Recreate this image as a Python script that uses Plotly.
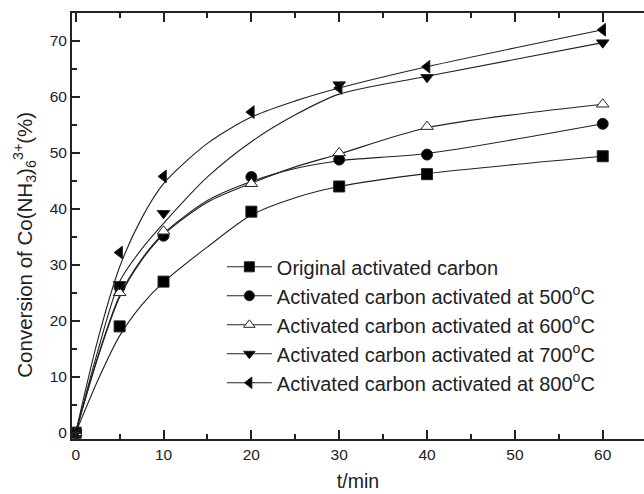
import plotly.graph_objects as go

# measured data points
t_all = [0, 5, 10, 20, 30, 40, 60]
t_700 = [0, 5, 10, 30, 40, 60]

original = [0, 19.0, 27.0, 39.5, 44.0, 46.2, 49.4]
act_500 = [0, 26.0, 35.2, 45.7, 48.8, 49.7, 55.2]
act_600 = [0, 25.0, 36.0, 44.5, 50.0, 54.7, 58.7]
act_700 = [0, 26.5, 39.2, 62.2, 63.5, 69.7]
act_800 = [0, 32.2, 45.8, 57.3, 61.6, 65.4, 72.0]

# fitted curves
t_fit = [0, 2.5, 5, 7.5, 10, 15, 20, 25, 30, 40, 60]
fit_original = [0, 9.3, 17.3, 22.8, 26.9, 33.2, 38.9, 42.0, 44.0, 46.3, 49.4]
fit_500 = [0, 13.5, 24.5, 31.0, 35.6, 41.5, 44.9, 47.2, 48.6, 49.9, 55.2]
fit_600 = [0, 13.3, 24.2, 30.8, 35.4, 41.2, 44.6, 47.5, 49.8, 54.5, 58.7]
fit_700 = [0, 14.5, 27.0, 32.8, 37.4, 45.7, 52.0, 56.8, 60.5, 63.7, 69.7]
fit_800 = [0, 16.5, 29.6, 38.3, 44.5, 51.7, 56.4, 59.3, 61.6, 65.4, 72.0]

names = [
    "Original activated carbon",
    "Activated carbon activated at 500<sup>o</sup>C",
    "Activated carbon activated at 600<sup>o</sup>C",
    "Activated carbon activated at 700<sup>o</sup>C",
    "Activated carbon activated at 800<sup>o</sup>C",
]
y_title = "Conversion of Co(NH<sub>3</sub>)<sub>6</sub><sup>3+</sup>(%)"
x_title = "t/min"

series = [
    (t_all, original, fit_original, "square", "black"),
    (t_all, act_500, fit_500, "circle", "black"),
    (t_all, act_600, fit_600, "triangle-up", "white"),
    (t_700, act_700, fit_700, "triangle-down", "black"),
    (t_all, act_800, fit_800, "triangle-left", "black"),
]

INK = "#222222"
FONT = "Arial, Liberation Sans, sans-serif"
fig = go.Figure()
for i, ((x, y, yfit, sym, fill), name) in enumerate(zip(series, names)):
    marker = dict(symbol=sym, size=11, color=fill, line=dict(color=INK, width=1))
    fig.add_trace(go.Scatter(
        x=t_fit, y=yfit, mode="lines", showlegend=False, hoverinfo="skip",
        line=dict(color=INK, width=1.1, shape="spline", smoothing=0.8),
    ))
    fig.add_trace(go.Scatter(
        x=x, y=y, mode="markers", showlegend=False, name=name, marker=marker,
    ))
    # legend entry (line + marker)
    fig.add_trace(go.Scatter(
        x=[None], y=[None], mode="lines+markers", name=name, legendgroup=f"g{i}",
        line=dict(color=INK, width=1.1),
        marker=dict(symbol=sym, size=10, color=fill, line=dict(color=INK, width=1)),
    ))

fig.update_layout(
    width=644, height=494,
    margin=dict(l=72, r=0, t=13, b=55),
    paper_bgcolor="white", plot_bgcolor="white",
    font=dict(family=FONT, color=INK, size=15.5),
    showlegend=True,
    legend=dict(x=0.262, y=0.45, xanchor="left", yanchor="top",
                bgcolor="rgba(0,0,0,0)", font=dict(size=20, family=FONT, color=INK),
                itemwidth=45, tracegroupgap=0),
    annotations=[dict(
        text=y_title, textangle=-90, xref="paper", yref="paper",
        x=-0.083, y=0.455, xanchor="center", yanchor="middle", showarrow=False,
        font=dict(size=20.5, family=FONT, color=INK),
    )],
)
fig.update_xaxes(
    range=[-0.42, 64.7], tickvals=[0, 10, 20, 30, 40, 50, 60],
    ticks="inside", ticklen=9, tickwidth=1.5, tickcolor=INK,
    minor=dict(dtick=5, tick0=0, ticks="inside", ticklen=5, tickwidth=1.5, tickcolor=INK),
    showline=True, linecolor=INK, linewidth=2, mirror="ticks",
    showgrid=False, zeroline=False,
    title=dict(text=x_title, font=dict(size=19.5, family=FONT, color=INK), standoff=13),
    tickfont=dict(size=15.5),
)
fig.update_yaxes(
    range=[-1.125, 75], tickvals=[0, 10, 20, 30, 40, 50, 60, 70],
    ticks="inside", ticklen=8, tickwidth=1.5, tickcolor=INK,
    minor=dict(dtick=5, tick0=0, ticks="inside", ticklen=5, tickwidth=1.5, tickcolor=INK),
    showline=True, linecolor=INK, linewidth=2,
    showgrid=False, zeroline=False,
    tickfont=dict(size=15.5),
)

fig.write_html("out.html")
